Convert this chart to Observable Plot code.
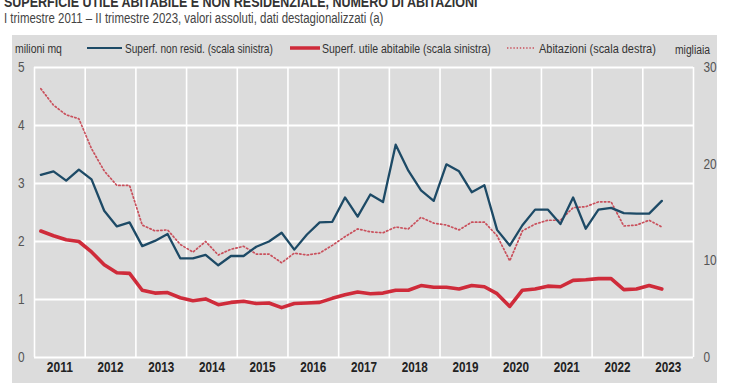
<!DOCTYPE html>
<html>
<head>
<meta charset="utf-8">
<script src="https://cdn.jsdelivr.net/npm/d3@7"></script>
<script src="https://cdn.jsdelivr.net/npm/@observablehq/plot@0.6"></script>
<style>
  body { margin:0; width:740px; height:389px; position:relative; overflow:hidden; background:#fff; }
  #chart { position:absolute; left:12px; top:35px; }
  #overlay { position:absolute; left:0; top:0; pointer-events:none; }
</style>
</head>
<body>
<div id="chart"></div>
<svg id="overlay" width="740" height="389"></svg>
<script>
const FONT = "'Liberation Sans',Arial,sans-serif";

// Categories
const startYear = 2011;
const yearLabels = [2011,2012,2013,2014,2015,2016,2017,2018,2019,2020,2021,2022,2023];
const quarterLabels = ["I","II","III","IV"];
const leftTicks = [0,1,2,3,4,5];
const rightTicks = [0,10,20,30];

// Series (milioni mq) - Superf. non residenziale
const nonResid = [3.15,3.21,3.05,3.24, 3.07,2.53,2.26,2.33, 1.92,2.01,2.13,1.71, 1.71,1.77,1.59,1.75,
  1.75,1.91,2.00,2.15, 1.86,2.12,2.33,2.34, 2.76,2.43,2.81,2.68, 3.67,3.22,2.88,2.70,
  3.33,3.21,2.85,2.97, 2.20,1.93,2.28,2.55, 2.55,2.30,2.76,2.22, 2.55,2.58,2.49,2.48, 2.48,2.70];
// Series (milioni mq) - Superf. utile abitabile
const utileAbit = [2.18,2.10,2.03,2.00, 1.82,1.60,1.46,1.45, 1.16,1.11,1.12,1.03, 0.98,1.01,0.91,0.95,
  0.97,0.93,0.94,0.86, 0.93,0.94,0.95,1.02, 1.08,1.13,1.10,1.11, 1.16,1.16,1.24,1.21,
  1.21,1.18,1.24,1.22, 1.10,0.88,1.16,1.18, 1.23,1.22,1.33,1.34, 1.36,1.36,1.17,1.18, 1.24,1.18];
// Series (migliaia) - Abitazioni (scala destra)
const abitazioni = [27.8,26.1,25.1,24.7, 21.6,19.3,17.8,17.8, 13.7,13.1,13.2,11.7, 10.9,12.0,10.6,11.2,
  11.5,10.7,10.7,9.8, 10.8,10.6,10.8,11.6, 12.5,13.3,13.0,12.9, 13.5,13.3,14.5,13.9,
  13.7,13.2,14.0,14.0, 12.6,10.0,13.1,13.8, 14.2,14.2,15.5,15.6, 16.1,16.1,13.6,13.7, 14.2,13.5];

const rightMax = 30, leftMax = 5, ratio = leftMax / rightMax;

const data = nonResid.map((v, i) => ({
  t: startYear + Math.floor(i / 4) + ((i % 4) + 0.5) / 4,
  label: quarterLabels[i % 4] + " " + (startYear + Math.floor(i / 4)),
  nonResid: v,
  utileAbit: utileAbit[i],
  abitazioni: abitazioni[i] * ratio
}));

const chart = Plot.plot({
  width: 705, height: 348,
  marginLeft: 22, marginRight: 24, marginTop: 32, marginBottom: 26,
  style: { background: "#dcdcdc", fontFamily: FONT, overflow: "visible" },
  x: { domain: [startYear, 2024], axis: null },
  y: { domain: [0, leftMax], axis: null },
  marks: [
    Plot.ruleX(d3.range(startYear, 2025), { stroke: "#fff", strokeWidth: 1.6 }),
    Plot.ruleY(leftTicks, { stroke: "#fff", strokeWidth: 1.8 }),
    Plot.axisY(leftTicks, { anchor: "left", tickSize: 0, tickPadding: 10, fontSize: 14, fill: "#555", label: null,
      tickFormat: d => String(d) }),
    Plot.axisY(rightTicks.map(d => d * ratio), { anchor: "right", tickSize: 0, tickPadding: 10, fontSize: 14, fill: "#555", label: null,
      tickFormat: d => String(Math.round(d / ratio)) }),
    Plot.axisX(yearLabels.map(y => y + 0.5), { anchor: "bottom", tickSize: 0, tickPadding: 5, fontSize: 14, fontWeight: "bold", fill: "#222", label: null,
      tickFormat: d => String(Math.floor(d)) }),
    Plot.line(data, { x: "t", y: "abitazioni", stroke: "#c9505c", strokeWidth: 1.7, strokeDasharray: "1.4,2.4" }),
    Plot.line(data, { x: "t", y: "nonResid", stroke: "#1d4a66", strokeWidth: 2.3 }),
    Plot.line(data, { x: "t", y: "utileAbit", stroke: "#cf2b3a", strokeWidth: 3.6 })
  ]
});
document.getElementById("chart").appendChild(chart);

// condense axis labels to mimic the narrow typeface of the reference
chart.querySelectorAll('g[aria-label="x-axis tick label"] text').forEach(t => {
  t.setAttribute("textLength", 26);
  t.setAttribute("lengthAdjust", "spacingAndGlyphs");
});
chart.querySelectorAll('g[aria-label="y-axis tick label"] text').forEach(t => {
  const n = t.textContent.length;
  t.setAttribute("textLength", 6.6 * n);
  t.setAttribute("lengthAdjust", "spacingAndGlyphs");
});

// Header and legend overlay: narrow look obtained by a smaller font stretched vertically
const ov = d3.select("#overlay").style("font-family", FONT);
function txt(x, y, size, w, s, opts = {}) {
  const t = ov.append("text").attr("x", 0).attr("y", 0).attr("font-size", size)
    .attr("fill", opts.fill || "#333").text(s);
  if (opts.bold) t.attr("font-weight", "bold");
  const natural = t.node().getComputedTextLength();
  const k = w / natural;            // horizontal factor (<1 = narrower)
  t.attr("font-size", size * k)
   .attr("transform", `translate(${x},${y}) scale(1,${1 / k})`);
  return t;
}
txt(4, 7, 15, 474, "SUPERFICIE UTILE ABITABILE E NON RESIDENZIALE, NUMERO DI ABITAZIONI", { bold: true, fill: "#333" });
txt(4, 22.5, 14.5, 380, "I trimestre 2011 – II trimestre 2023, valori assoluti, dati destagionalizzati (a)", { fill: "#444" });
const legendY = 48;
txt(15, legendY + 5, 13.5, 47, "milioni mq");
ov.append("line").attr("x1", 87).attr("x2", 122).attr("y1", legendY).attr("y2", legendY).attr("stroke", "#1d4a66").attr("stroke-width", 2);
txt(125, legendY + 5, 13.5, 148, "Superf. non resid. (scala sinistra)");
ov.append("line").attr("x1", 290).attr("x2", 320).attr("y1", legendY).attr("y2", legendY).attr("stroke", "#cf2b3a").attr("stroke-width", 3.5);
txt(322, legendY + 5, 13.5, 169, "Superf. utile abitabile (scala sinistra)");
ov.append("line").attr("x1", 507).attr("x2", 534).attr("y1", legendY).attr("y2", legendY).attr("stroke", "#c9505c").attr("stroke-width", 1.6).attr("stroke-dasharray", "1.4,1.8");
txt(539, legendY + 5, 13.5, 117, "Abitazioni (scala destra)");
txt(675, legendY + 6, 13.5, 35, "migliaia");
</script>
</body>
</html>
